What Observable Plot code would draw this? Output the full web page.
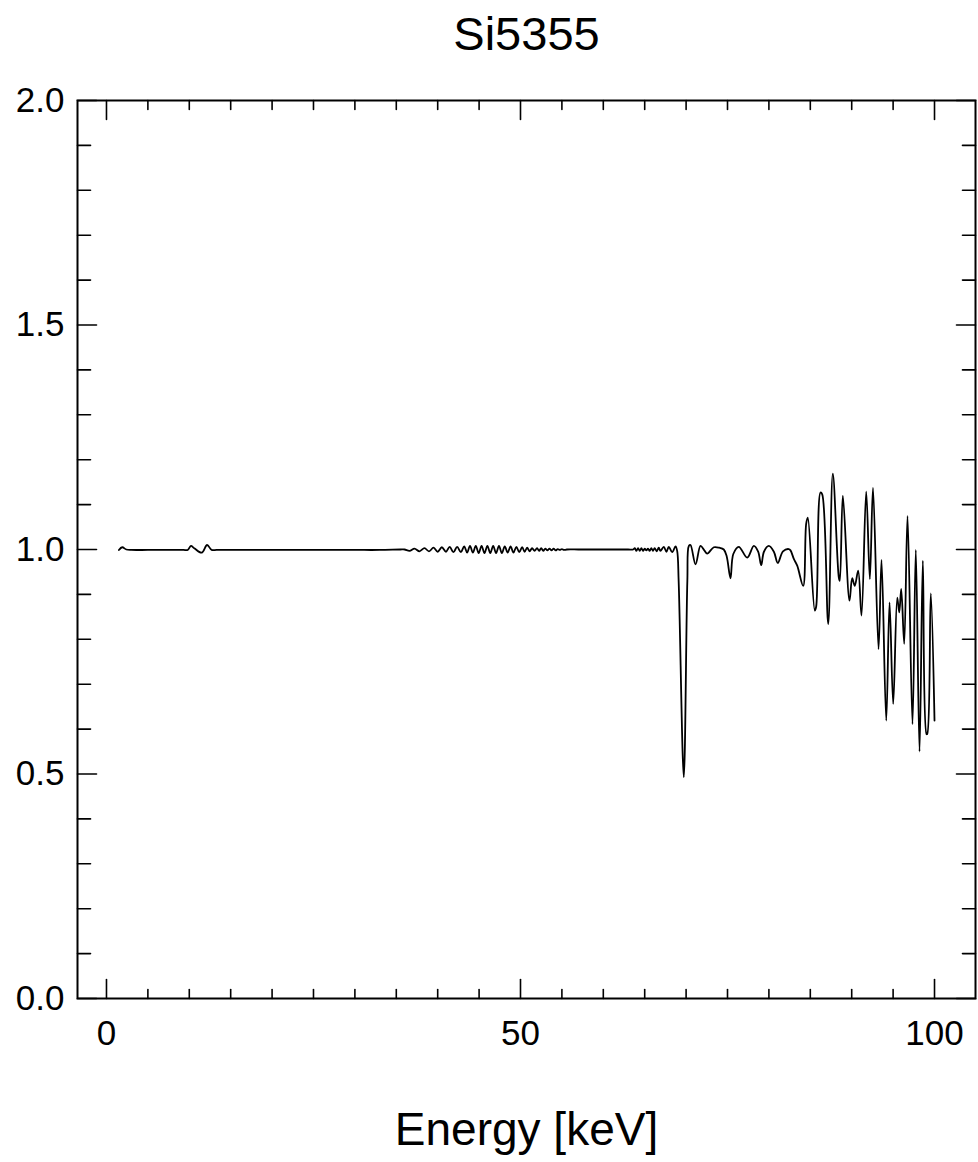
<!DOCTYPE html>
<html>
<head>
<meta charset="utf-8">
<script src="https://cdn.jsdelivr.net/npm/d3@7"></script>
<script src="https://cdn.jsdelivr.net/npm/@observablehq/plot@0.6"></script>
<style>
  html, body { margin: 0; padding: 0; background: #fff; }
  #chart svg { display: block; }
</style>
</head>
<body>
<div id="chart"></div>
<script>
// ---- data ----
const title = "Si5355";
const xLabel = "Energy [keV]";

const energy = [
  1.5, 1.9, 2.4, 3.0, 5.0, 7.5, 9.3, 9.8, 10.2, 10.6, 11.5, 12.15, 12.7, 13.3, 15, 17.5, 20, 25, 30, 33, 35.5,
  36.0, 36.6, 37.2, 37.8, 38.4, 38.95, 39.5, 40.0, 40.5, 41.0, 41.45, 41.9, 42.35, 42.8, 43.2,
  43.55, 43.9, 44.25, 44.6, 44.95, 45.3, 45.65, 46.0, 46.35, 46.7, 47.05, 47.4, 47.75, 48.1,
  48.45, 48.8, 49.15, 49.5, 49.85, 50.2, 50.5, 50.8, 51.1, 51.4, 51.7,
  52.0, 52.25, 52.5, 52.75, 53.0, 53.25, 53.5, 53.75, 54.0, 54.25, 54.5, 54.75, 55.0, 55.25, 55.6,
  57.0, 59.0, 61.0, 63.0, 63.6,
  63.8, 64.0, 64.2, 64.4, 64.6, 64.8, 65.0, 65.2, 65.4, 65.6, 65.8, 66.0, 66.2, 66.45, 66.7, 66.9,
  67.3, 67.63, 67.91, 68.32, 68.72, 68.92, 69.1, 69.72, 70.15, 70.33, 70.53, 71.14, 71.74,
  72.2, 72.55, 73.35, 74.0, 74.55, 74.9, 75.36, 75.7, 76.36, 77.38, 78.18, 78.7, 79.07, 79.4,
  79.99, 80.6, 81.07, 81.7, 82.4, 82.61, 83.01, 83.42, 84.14, 84.5, 84.7, 85.54, 85.71,
  86.23, 86.44, 87.16, 87.72, 88.44, 88.56, 88.93, 89.73, 90.06, 90.37, 90.78, 91.18, 91.75,
  92.19, 92.57, 93.24, 93.6, 94.17, 94.57, 95.01, 95.5, 95.74, 95.98, 96.34, 96.74, 97.34,
  97.74, 98.19, 98.59, 99.03, 99.12, 99.55, 100.0
];
const ratio = [
  0.999, 1.005, 1.000, 0.999, 0.999, 0.999, 0.999, 0.999, 1.008, 1.003, 0.993, 1.010, 0.999, 0.999, 0.999, 0.999, 0.999, 0.999, 0.999, 0.999, 1.000,
  1.000, 0.997, 1.002, 0.996, 1.003, 0.996, 1.004, 0.995, 1.005, 0.995, 1.006, 0.994, 1.006, 0.994, 1.007,
  0.993, 1.008, 0.993, 1.008, 0.992, 1.008, 0.992, 1.008, 0.992, 1.008, 0.992, 1.008, 0.992, 1.007,
  0.993, 1.007, 0.993, 1.006, 0.994, 1.005, 0.995, 1.004, 0.996, 1.003, 0.997,
  1.003, 0.997, 1.003, 0.997, 1.002, 0.998, 1.002, 0.998, 1.002, 0.998, 1.001, 0.999, 1.001, 0.999, 1.000,
  1.000, 1.000, 1.000, 1.000, 1.000,
  1.003, 0.997, 1.003, 0.997, 1.003, 0.997, 1.002, 0.998, 1.002, 0.997, 1.003, 0.997, 1.003, 0.996, 1.004, 0.997,
  1.006, 0.995, 1.006, 0.994, 1.007, 0.997, 0.930, 0.493, 0.930, 1.008, 1.010, 0.967, 1.008,
  0.998, 0.991, 1.005, 1.004, 1.000, 0.985, 0.936, 0.990, 1.006, 0.982, 1.008, 0.995, 0.965, 0.995,
  1.008, 0.995, 0.970, 0.996, 1.001, 0.998, 0.979, 0.964, 0.919, 1.057, 1.071, 0.864, 0.873,
  1.127, 1.123, 0.834, 1.169, 0.938, 0.930, 1.120, 0.886, 0.936, 0.919, 0.953, 0.853, 1.129,
  0.934, 1.137, 0.778, 0.977, 0.619, 0.882, 0.656, 0.893, 0.860, 0.912, 0.790, 1.075, 0.611,
  0.999, 0.550, 0.975, 0.589, 0.589, 0.902, 0.619
];

const xMajor = [0, 50, 100];
const xMinor = [5, 10, 15, 20, 25, 30, 35, 40, 45, 55, 60, 65, 70, 75, 80, 85, 90, 95];
const yMajor = [0, 0.5, 1.0, 1.5, 2.0];
const yMinor = [0.1, 0.2, 0.3, 0.4, 0.6, 0.7, 0.8, 0.9, 1.1, 1.2, 1.3, 1.4, 1.6, 1.7, 1.8, 1.9];

const points = energy.map((e, i) => ({energy: e, ratio: ratio[i]}));

const tickShape = { draw(context, l) { context.moveTo(0, 0); context.lineTo(0, -l); } };
const tickStyle = { shape: tickShape, anchor: "start", stroke: "black", strokeWidth: 1.6 };

const font = "'Liberation Sans', Arial, Helvetica, sans-serif";

const chart = Plot.plot({
  width: 978,
  height: 1162,
  marginLeft: 77,
  marginRight: 3,
  marginTop: 100,
  marginBottom: 164,
  style: { fontFamily: font, background: "#fff", color: "black" },
  x: { domain: [-3.5, 104.95] },
  y: { domain: [0, 2] },
  marks: [
    // inward ticks, all four sides
    Plot.vector(xMajor, { x: d => d, frameAnchor: "bottom", rotate: 0, length: 19, ...tickStyle }),
    Plot.vector(xMinor, { x: d => d, frameAnchor: "bottom", rotate: 0, length: 9, ...tickStyle }),
    Plot.vector(xMajor, { x: d => d, frameAnchor: "top", rotate: 180, length: 19, ...tickStyle }),
    Plot.vector(xMinor, { x: d => d, frameAnchor: "top", rotate: 180, length: 9, ...tickStyle }),
    Plot.vector(yMajor, { y: d => d, frameAnchor: "left", rotate: 90, length: 19, ...tickStyle }),
    Plot.vector(yMinor, { y: d => d, frameAnchor: "left", rotate: 90, length: 13, ...tickStyle }),
    Plot.vector(yMajor, { y: d => d, frameAnchor: "right", rotate: -90, length: 19, ...tickStyle }),
    Plot.vector(yMinor, { y: d => d, frameAnchor: "right", rotate: -90, length: 13, ...tickStyle }),
    // tick labels
    Plot.axisY({ anchor: "left", ticks: yMajor, tickSize: 0, tickPadding: 13, fontSize: 35,
                 tickFormat: d3.format(".1f"), label: null }),
    Plot.axisX({ anchor: "bottom", ticks: xMajor, tickSize: 0, tickPadding: 22, fontSize: 35,
                 tickFormat: d3.format("d"), label: null }),
    // frame
    Plot.frame({ stroke: "black", strokeWidth: 2 }),
    // data
    Plot.line(points, { x: "energy", y: "ratio", stroke: "black", strokeWidth: 1.8, curve: "catmull-rom" }),
    // title and x label
    Plot.text([title], { frameAnchor: "top", dy: -66, lineAnchor: "middle", fontSize: 47, fill: "black" }),
    Plot.text([xLabel], { frameAnchor: "bottom", dy: 132, lineAnchor: "middle", fontSize: 46, fill: "black" })
  ]
});

document.getElementById("chart").appendChild(chart);
</script>
</body>
</html>
